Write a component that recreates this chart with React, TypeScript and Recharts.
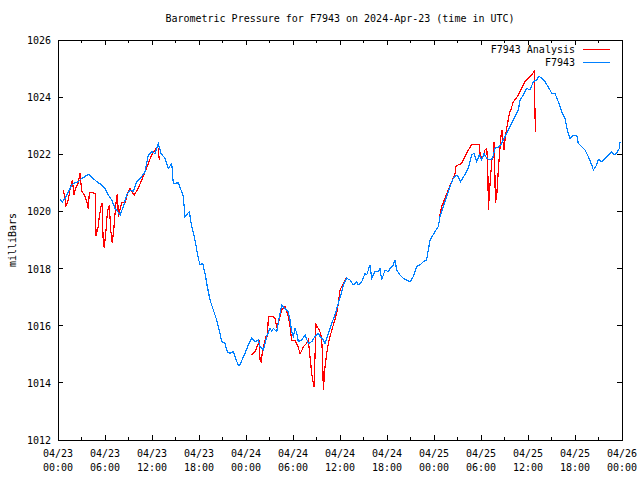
import React from 'react'
import { LineChart, Line, XAxis, YAxis, ReferenceArea } from 'recharts'

// hours since 2024-04-23 00:00 UTC, pressure in milliBars
const stationHours = [
  0.26, 0.55, 0.89, 1.31, 1.75, 2.17, 2.59, 3.03, 3.45, 3.87, 4.3, 4.72, 5.14, 5.58, 6.0, 6.42, 6.86, 7.28, 7.49, 7.92,
  8.34, 8.77, 9.19, 9.61, 10.05, 10.69, 11.11, 11.53, 11.96, 12.38, 12.8, 13.15, 13.66, 14.08, 14.52, 14.72, 15.36, 15.79, 16.0, 16.21,
  16.76, 17.07, 17.49, 17.91, 18.13, 18.47, 18.77, 19.06, 19.41, 19.83, 20.26, 20.68, 20.9, 21.32, 21.61, 21.96, 22.38, 22.6, 23.02, 23.24,
  23.66, 23.87, 24.29, 24.73, 25.15, 25.57, 25.79, 26.21, 26.64, 27.07, 27.28, 27.49, 27.92, 28.34, 28.56, 28.98, 29.4, 29.62, 29.83, 30.04,
  30.26, 30.47, 30.68, 31.11, 31.54, 31.96, 32.39, 32.81, 33.23, 33.45, 33.87, 34.09, 34.51, 34.72, 34.94, 35.36, 35.78, 36.22, 36.43, 36.86,
  37.28, 37.7, 38.13, 38.34, 38.77, 39.19, 39.41, 39.83, 40.05, 40.47, 40.89, 41.11, 41.32, 41.75, 42.17, 42.38, 42.81, 43.02, 43.24, 43.66,
  44.08, 44.52, 44.94, 45.37, 45.79, 46.21, 46.64, 47.06, 47.49, 48.13, 48.55, 48.77, 49.19, 49.62, 50.04, 50.47, 50.9, 51.1, 51.41, 51.74,
  52.17, 52.51, 52.81, 53.11, 53.45, 53.78, 54.09, 54.38, 54.73, 55.15, 55.49, 55.79, 56.21, 56.64, 57.07, 57.49, 57.92, 58.34, 58.77, 58.98,
  59.4, 59.83, 60.26, 60.68, 61.11, 61.4, 61.75, 62.17, 62.59, 63.03, 63.45, 63.87, 64.3, 64.73, 65.02, 65.36, 65.79, 66.22, 66.42, 66.86,
  67.28, 67.7, 68.13, 68.34, 68.77, 68.98, 69.41, 69.83, 70.26, 70.68, 70.98, 71.32, 71.66, 71.75,
]
const stationPressure = [
  1020.42, 1020.33, 1020.46, 1020.69, 1020.93, 1021.0, 1021.04, 1021.16, 1021.22, 1021.3, 1021.2, 1021.1, 1021.0, 1020.93, 1020.81, 1020.58, 1020.4, 1020.11, 1020.05, 1019.87,
  1020.17, 1020.58, 1020.75, 1020.7, 1021.04, 1021.22, 1021.39, 1021.98, 1022.09, 1022.03, 1022.38, 1022.03, 1021.86, 1021.51, 1021.68, 1020.98, 1021.0, 1020.69, 1020.52, 1019.82,
  1019.99, 1019.47, 1019.0, 1018.36, 1018.13, 1018.18, 1017.83, 1017.37, 1016.9, 1016.55, 1016.2, 1015.73, 1015.44, 1015.38, 1015.09, 1015.03, 1015.09, 1014.92, 1014.6, 1014.63,
  1014.92, 1015.03, 1015.33, 1015.56, 1015.44, 1015.5, 1015.27, 1015.15, 1015.62, 1015.91, 1015.8, 1015.91, 1015.79, 1016.43, 1016.72, 1016.61, 1016.49, 1016.2, 1015.79, 1015.62,
  1015.91, 1015.75, 1015.44, 1015.5, 1015.68, 1015.38, 1015.44, 1015.62, 1015.73, 1015.62, 1015.5, 1015.38, 1015.73, 1015.91, 1016.08, 1016.38, 1016.78, 1017.19, 1017.43, 1017.66,
  1017.6, 1017.43, 1017.54, 1017.43, 1017.54, 1017.83, 1017.78, 1018.13, 1017.66, 1017.89, 1017.89, 1018.0, 1017.6, 1017.95, 1017.89, 1018.0, 1018.13, 1018.3, 1017.95, 1017.78,
  1017.66, 1017.6, 1017.54, 1017.72, 1018.07, 1018.13, 1018.24, 1018.3, 1019.0, 1019.29, 1019.47, 1019.82, 1020.17, 1020.52, 1020.87, 1021.16, 1021.27, 1021.2, 1021.04, 1021.2,
  1021.39, 1021.63, 1021.98, 1022.03, 1021.74, 1021.98, 1021.8, 1022.03, 1021.86, 1021.8, 1021.86, 1022.21, 1022.25, 1022.38, 1022.62, 1022.85, 1023.08, 1023.32, 1023.55, 1023.9,
  1024.08, 1024.31, 1024.25, 1024.54, 1024.6, 1024.74, 1024.66, 1024.54, 1024.36, 1024.13, 1024.13, 1023.84, 1023.49, 1023.26, 1022.85, 1022.56, 1022.67, 1022.67, 1022.38, 1022.27,
  1022.15, 1021.92, 1021.63, 1021.45, 1021.63, 1021.83, 1021.74, 1021.86, 1021.98, 1022.09, 1021.98, 1022.03, 1022.21, 1022.44,
]

// analysis runs come in three separate chunks
const analysisHours1 = [
  0.7, 1.02, 1.31, 1.53, 1.83, 2.04, 2.26, 2.59, 2.81, 3.03, 3.23, 3.45, 3.66, 3.79, 3.87, 4.0, 4.79, 4.85, 5.14, 5.27,
  5.49, 5.62, 5.78, 5.91, 6.13, 6.29, 6.42, 6.55, 6.73, 6.93, 7.15, 7.32, 7.49, 7.6, 7.7, 8.13, 8.55, 8.97, 9.19, 9.41,
  9.74, 10.25, 10.69, 11.11, 11.53, 11.96, 12.38, 12.68, 12.8, 12.93,
]
const analysisPressure1 = [
  1020.75, 1020.19, 1020.4, 1020.75, 1021.1, 1020.58, 1020.81, 1021.0, 1021.33, 1020.7, 1020.63, 1020.52, 1020.34, 1020.22, 1020.07, 1020.67, 1020.63, 1019.14, 1019.47, 1019.82,
  1020.17, 1020.28, 1018.88, 1018.74, 1019.35, 1019.93, 1020.1, 1020.22, 1019.35, 1018.88, 1019.47, 1020.05, 1020.52, 1020.6, 1019.82, 1020.3, 1020.3, 1020.69, 1020.81, 1020.69,
  1020.58, 1020.81, 1021.1, 1021.39, 1021.68, 1021.98, 1022.15, 1022.27, 1022.2, 1021.8,
]
const analysisHours2 = [
  24.73, 25.15, 25.57, 25.7, 25.79, 25.92, 26.13, 26.34, 26.55, 26.74, 26.85, 27.49, 27.7, 27.92, 28.13, 28.34, 28.56, 28.98, 29.2, 29.4,
  29.62, 29.83, 30.26, 30.6, 30.9, 31.11, 31.32, 31.75, 31.96, 32.17, 32.39, 32.68, 32.94, 33.23, 33.54, 33.67, 33.79, 33.87, 34.09, 34.3,
  34.51, 34.72, 35.15, 35.58, 35.78, 36.0, 36.35, 36.64, 36.93,
]
const analysisPressure2 = [
  1014.98, 1015.09, 1015.38, 1015.5, 1014.8, 1014.74, 1015.15, 1015.38, 1015.62, 1015.62, 1016.32, 1016.32, 1016.26, 1015.97, 1016.09, 1016.32, 1016.55, 1016.67, 1016.49, 1016.32,
  1015.97, 1015.5, 1015.48, 1015.3, 1015.03, 1015.12, 1015.27, 1015.38, 1015.5, 1014.92, 1014.33, 1013.85, 1016.03, 1015.91, 1015.73, 1015.5, 1014.8, 1013.75, 1014.57, 1015.03,
  1015.38, 1015.62, 1016.03, 1016.43, 1016.78, 1017.25, 1017.43, 1017.6, 1017.72,
]
const analysisHours3 = [
  48.64, 48.98, 49.41, 49.83, 50.26, 50.68, 50.81, 51.1, 51.54, 51.83, 52.17, 52.51, 52.81, 53.23, 53.78, 53.87, 54.09, 54.3, 54.51, 54.73,
  54.86, 54.94, 55.07, 55.25, 55.38, 55.58, 55.66, 55.75, 55.83, 56.0, 56.21, 56.34, 56.56, 56.68, 56.77, 56.94, 57.11, 57.36, 57.62, 57.8,
  58.13, 58.64, 59.2, 59.62, 60.04, 60.45, 60.81, 60.87, 60.94,
]
const analysisPressure3 = [
  1019.75, 1020.17, 1020.46, 1020.75, 1021.04, 1021.33, 1021.57, 1021.63, 1021.68, 1021.86, 1022.03, 1022.21, 1022.33, 1022.35, 1022.35, 1022.03, 1021.86, 1021.92, 1022.15, 1022.2,
  1021.68, 1020.05, 1020.63, 1021.3, 1021.8, 1021.92, 1022.42, 1021.8, 1020.28, 1020.52, 1021.45, 1021.92, 1022.67, 1022.85, 1022.5, 1022.15, 1022.62, 1023.03, 1023.43, 1023.55,
  1023.84, 1024.02, 1024.31, 1024.54, 1024.66, 1024.78, 1024.9, 1023.84, 1022.79,
]

const xTickHours = [0, 3, 6, 9, 12, 15, 18, 21, 24, 27, 30, 33, 36, 39, 42, 45, 48, 51, 54, 57, 60, 63, 66, 69, 72]
const xTickDates = ['04/23', '04/23', '04/23', '04/23', '04/24', '04/24', '04/24', '04/24', '04/25', '04/25', '04/25', '04/25', '04/26']
const xTickTimes = ['00:00', '06:00', '12:00', '18:00', '00:00', '06:00', '12:00', '18:00', '00:00', '06:00', '12:00', '18:00', '00:00']
const yTicks = [1012, 1014, 1016, 1018, 1020, 1022, 1024, 1026]

const FONT = '"DejaVu Sans Mono", "Liberation Mono", monospace'
const RED = '#ff0000'
const BLUE = '#0080ff'
const TOP = 40
const BOTTOM = 440
const LEFT = 58
const RIGHT = 622

const toPoints = (hours: number[], vals: number[]) => hours.map((t, i) => ({ t, p: vals[i] }))

function XTick({ x, payload }: any) {
  const h = payload.value
  const major = h % 6 === 0
  const len = major ? 5 : 3
  const idx = h / 6
  return (
    <g>
      <line x1={x} x2={x} y1={BOTTOM} y2={BOTTOM - len} stroke="#000" shapeRendering="crispEdges" />
      <line x1={x} x2={x} y1={TOP} y2={TOP + len} stroke="#000" shapeRendering="crispEdges" />
      {major && (
        <text x={x} y={BOTTOM} textAnchor="middle" fontFamily={FONT} fontSize={10} fill="#000">
          <tspan x={x} dy={17}>{xTickDates[idx]}</tspan>
          <tspan x={x} dy={14}>{xTickTimes[idx]}</tspan>
        </text>
      )}
    </g>
  )
}

function YTick({ y, payload }: any) {
  return (
    <g>
      <line x1={LEFT} x2={LEFT + 5} y1={y} y2={y} stroke="#000" shapeRendering="crispEdges" />
      <line x1={RIGHT} x2={RIGHT - 5} y1={y} y2={y} stroke="#000" shapeRendering="crispEdges" />
      <text x={51} y={y + 4} textAnchor="end" fontFamily={FONT} fontSize={10} fill="#000">{payload.value}</text>
    </g>
  )
}

export default function App() {
  const station = toPoints(stationHours, stationPressure)
  const chunks = [
    toPoints(analysisHours1, analysisPressure1),
    toPoints(analysisHours2, analysisPressure2),
    toPoints(analysisHours3, analysisPressure3),
  ]
  const txt = { position: 'absolute' as const, fontFamily: FONT, fontSize: 10, color: '#000', whiteSpace: 'nowrap' as const, lineHeight: '12px' }

  return (
    <div style={{ position: 'absolute', left: 0, top: 0, width: 640, height: 480, background: '#fff' }}>
      <LineChart width={640} height={480} margin={{ top: TOP, right: 640 - RIGHT, bottom: 0, left: 0 }}>
        <XAxis type="number" dataKey="t" domain={[0, 72]} ticks={xTickHours} interval={0} height={480 - BOTTOM}
          axisLine={false} tickLine={false} tick={<XTick />} allowDataOverflow />
        <YAxis type="number" domain={[1012, 1026]} ticks={yTicks} interval={0} width={LEFT}
          axisLine={false} tickLine={false} tick={<YTick />} allowDataOverflow />
        <ReferenceArea x1={0} x2={72} y1={1012} y2={1026} fill="none" stroke="#000" strokeWidth={1} shapeRendering="crispEdges" />
        {chunks.map((d, i) => (
          <Line key={i} data={d} dataKey="p" type="linear" stroke={RED} strokeWidth={1.2} dot={false} activeDot={false}
            isAnimationActive={false} shapeRendering="crispEdges" />
        ))}
        <Line data={station} dataKey="p" type="linear" stroke={BLUE} strokeWidth={1.2} dot={false} activeDot={false}
          isAnimationActive={false} shapeRendering="crispEdges" />
      </LineChart>

      <div style={{ ...txt, left: 0, width: 680, top: 13, textAlign: 'center' }}>
        Barometric Pressure for F7943 on 2024-Apr-23 (time in UTC)
      </div>
      <div style={{ ...txt, left: -17, top: 234, width: 60, textAlign: 'center', transform: 'rotate(-90deg)' }}>milliBars</div>

      <div style={{ ...txt, right: 640 - 575, top: 44, textAlign: 'right' }}>F7943 Analysis</div>
      <div style={{ position: 'absolute', left: 583, top: 49, width: 27, height: 1, background: RED }} />
      <div style={{ ...txt, right: 640 - 575, top: 57, textAlign: 'right' }}>F7943</div>
      <div style={{ position: 'absolute', left: 583, top: 62, width: 27, height: 1, background: BLUE }} />
    </div>
  )
}
